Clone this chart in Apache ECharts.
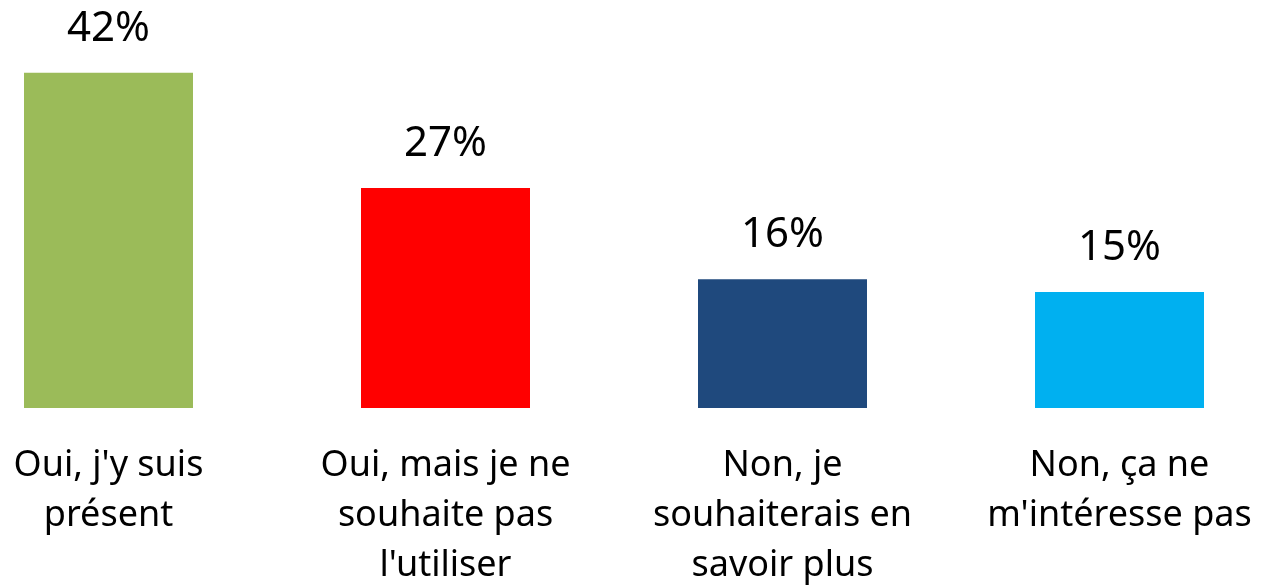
<!DOCTYPE html>
<html>
<head>
<meta charset="utf-8">
<script src="https://cdn.jsdelivr.net/npm/echarts@6/dist/echarts.min.js"></script>
<style>
html, body { margin: 0; padding: 0; background: #fff; }
#chart { width: 1266px; height: 587px; }
</style>
</head>
<body>
<div id="chart"></div>
<script>
const categories = ["Oui, j'y suis\nprésent", "Oui, mais je ne\nsouhaite pas\nl'utiliser", "Non, je\nsouhaiterais en\nsavoir plus", "Non, ça ne\nm'intéresse pas"]
const values = [41.9, 27.5, 16.1, 14.5]
const labels = ['42%', '27%', '16%', '15%']
const colors = ['#9BBB59', '#FF0000', '#1F497D', '#00B0F0']

const chart = echarts.init(document.getElementById('chart'))
chart.setOption({
	animation: false,
	// ticks sit on the bar centres (boundaryGap off)
	grid: {
		left: 108.5,
		right: 146.5,
		top: 8,
		bottom: 179,
		outerBoundsMode: 'none',
	},
	xAxis: {
		type: 'category',
		data: categories,
		boundaryGap: false,
		axisLine: { show: false },
		axisTick: { show: false },
		splitLine: { show: false },
		axisLabel: {
			interval: 0,
			margin: 33,
			fontFamily: 'Noto Sans',
			fontSize: 36,
			lineHeight: 50,
			color: '#000',
		},
	},
	yAxis: {
		type: 'value',
		min: 0,
		max: 50,
		show: false,
	},
	series: [
		{
			type: 'bar',
			barWidth: 169,
			data: values.map((v, i) => ({ value: v, itemStyle: { color: colors[i] } })),
			label: {
				show: true,
				position: 'top',
				distance: 23,
				fontFamily: 'Noto Sans',
				fontSize: 42,
				color: '#000',
				formatter: (p) => labels[p.dataIndex],
			},
		},
	],
})
</script>
</body>
</html>
